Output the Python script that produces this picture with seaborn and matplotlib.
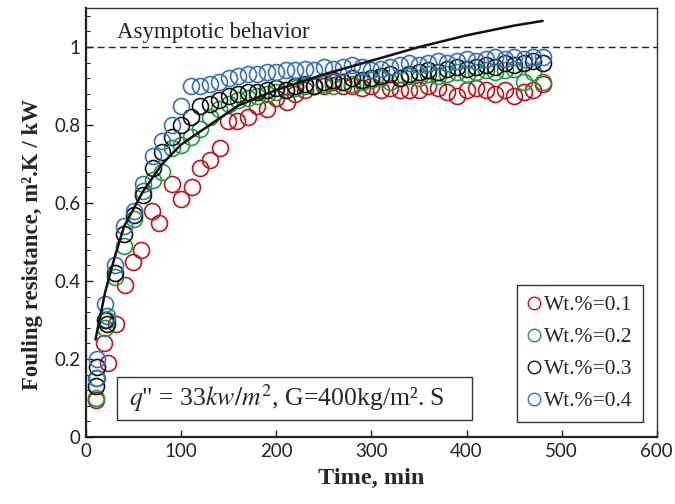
import matplotlib
matplotlib.use("Agg")
import matplotlib.pyplot as plt
import seaborn as sns
import pandas as pd
from matplotlib.lines import Line2D
from matplotlib.patches import Rectangle
from matplotlib.ticker import MultipleLocator, FixedLocator

sns.set_theme(style="white")
plt.rcParams['font.family'] = ['Liberation Serif', 'DejaVu Serif']
plt.rcParams['mathtext.fontset'] = 'stix'

# ---------------- data ----------------
time_red = [10, 19, 23, 32, 41, 49, 58, 69, 77, 90, 100, 111, 120, 130, 141, 149, 159, 170, 180,
            190, 200, 211, 220, 230, 240, 250, 260, 270, 280, 290, 300, 310, 320, 330, 340, 350,
            360, 370, 380, 390, 400, 410, 420, 430, 440, 450, 460, 470, 480]
rf_red = [0.095, 0.24, 0.19, 0.29, 0.39, 0.45, 0.48, 0.58, 0.55, 0.65, 0.61, 0.64, 0.69, 0.71,
          0.74, 0.81, 0.81, 0.82, 0.85, 0.84, 0.87, 0.86, 0.88, 0.89, 0.90, 0.90, 0.91, 0.90,
          0.90, 0.895, 0.90, 0.89, 0.895, 0.89, 0.89, 0.89, 0.90, 0.895, 0.885, 0.875, 0.89,
          0.895, 0.89, 0.88, 0.89, 0.875, 0.885, 0.89, 0.905]

time_main = [10, 12, 20, 22, 30, 40, 50, 60, 70, 80, 90, 100, 110, 120, 130, 140, 150, 160, 170,
             180, 190, 200, 210, 220, 230, 240, 250, 260, 270, 280, 290, 300, 310, 320, 330, 340,
             350, 360, 370, 380, 390, 400, 410, 420, 430, 440, 450, 460, 470, 480]
rf_green = [0.10, 0.15, 0.28, 0.30, 0.41, 0.49, 0.56, 0.63, 0.66, 0.68, 0.74, 0.75, 0.77, 0.79,
            0.82, 0.84, 0.855, 0.865, 0.87, 0.875, 0.88, 0.885, 0.89, 0.895, 0.90, 0.90, 0.905,
            0.90, 0.91, 0.905, 0.91, 0.915, 0.92, 0.91, 0.92, 0.925, 0.92, 0.93, 0.925, 0.93,
            0.935, 0.93, 0.935, 0.94, 0.935, 0.94, 0.945, 0.91, 0.935, 0.91]
rf_black = [0.13, 0.18, 0.30, 0.29, 0.42, 0.52, 0.57, 0.62, 0.69, 0.73, 0.77, 0.80, 0.82, 0.85,
            0.855, 0.865, 0.875, 0.88, 0.885, 0.885, 0.89, 0.895, 0.89, 0.90, 0.905, 0.90, 0.91,
            0.915, 0.91, 0.92, 0.915, 0.92, 0.925, 0.93, 0.92, 0.93, 0.935, 0.94, 0.935, 0.945,
            0.95, 0.945, 0.95, 0.955, 0.95, 0.96, 0.955, 0.96, 0.965, 0.96]
rf_blue = [0.15, 0.20, 0.34, 0.31, 0.44, 0.54, 0.58, 0.65, 0.72, 0.76, 0.80, 0.85, 0.90, 0.90,
           0.905, 0.91, 0.92, 0.925, 0.93, 0.93, 0.935, 0.935, 0.94, 0.94, 0.945, 0.94, 0.95,
           0.945, 0.95, 0.955, 0.95, 0.94, 0.945, 0.95, 0.955, 0.96, 0.955, 0.96, 0.965, 0.96,
           0.965, 0.97, 0.965, 0.97, 0.975, 0.97, 0.975, 0.97, 0.975, 0.975]

fit_time = [10, 20, 30, 40, 60, 80, 100, 130, 160, 200, 250, 300, 350, 400, 450, 480]
fit_rf = [0.25, 0.37, 0.46, 0.54, 0.63, 0.70, 0.75, 0.80, 0.85, 0.89, 0.93, 0.965, 1.0, 1.03,
          1.055, 1.067]

labels = ["Wt.%=0.1", "Wt.%=0.2", "Wt.%=0.3", "Wt.%=0.4"]
colors = ["#c0121a", "#1e9b3c", "#111111", "#3470c0"]
series = [(time_red, rf_red), (time_main, rf_green), (time_main, rf_black), (time_main, rf_blue)]

x_ticks = [0, 100, 200, 300, 400, 500, 600]
y_ticks = [0, 0.2, 0.4, 0.6, 0.8, 1]
y_tick_labels = ["0", "0.2", "0.4", "0.6", "0.8", "1"]

# ---------------- figure ----------------
fig = plt.figure(figsize=(6.75, 5.04), dpi=100)
ax = fig.add_axes([0.1274, 0.133, 0.8456, 0.851])

for (t, r), lab, col in zip(series, labels, colors):
    df = pd.DataFrame({"t": t, "r": r})
    sns.lineplot(data=df, x="t", y="r", ax=ax, estimator=None, sort=False,
                 linestyle="", marker="o", markersize=11.5, markerfacecolor="none",
                 markeredgecolor=col, markeredgewidth=1.2, color=col, legend=False)

fit_df = pd.DataFrame({"t": fit_time, "r": fit_rf})
sns.lineplot(data=fit_df, x="t", y="r", ax=ax, estimator=None, sort=False,
             color="#111111", lw=1.8, legend=False)

ax.axhline(1.0, color="#222222", lw=1.0, ls=(0, (5, 3)))
ax.text(33, 1.01, "Asymptotic behavior", fontsize=16.5, ha="left", va="bottom",
        color="#222222")

ax.set_xlim(0, 600)
ax.set_ylim(0, 1.1)
ax.xaxis.set_major_locator(FixedLocator(x_ticks))
ax.yaxis.set_major_locator(FixedLocator(y_ticks))
ax.set_yticklabels(y_tick_labels)
ax.yaxis.set_minor_locator(MultipleLocator(0.04))
ax.tick_params(axis="both", which="major", direction="in", length=5, width=1,
               labelsize=13.5, pad=4, colors="#222222")
ax.tick_params(axis="y", which="minor", direction="in", length=3, width=0.8, left=True)
ax.tick_params(axis="y", which="major", left=True)
ax.tick_params(axis="x", which="major", bottom=True)
for lab in ax.get_xticklabels() + ax.get_yticklabels():
    lab.set_fontfamily("Lato")

for side in ["left", "bottom"]:
    ax.spines[side].set_color("#222222")
    ax.spines[side].set_linewidth(1.6)
for side in ["top", "right"]:
    ax.spines[side].set_color("#333333")
    ax.spines[side].set_linewidth(1.0)

ax.set_xlabel("Time, min", fontsize=17.5, fontweight="bold", labelpad=6)
ax.set_ylabel("Fouling resistance, m².K / kW", fontsize=16.5,
              fontweight="bold", labelpad=6)
ax.yaxis.set_label_coords(-0.075, 0.45)

ax.add_patch(Rectangle((0.054, 0.040), 0.622, 0.100, transform=ax.transAxes,
                       fc="white", ec="#333333", lw=1.0, zorder=4))
ax.text(0.075, 0.090, r'$q$" = 33$kw/m^2$, G=400kg/m². S', transform=ax.transAxes,
        fontsize=18.5, ha="left", va="center", zorder=5)

handles = [Line2D([], [], ls="", marker="o", markersize=9, markerfacecolor="none",
                  markeredgecolor=c, markeredgewidth=1.0) for c in colors]
leg = ax.legend(handles, labels, loc="lower right", bbox_to_anchor=(0.976, 0.035),
                fontsize=15.5, frameon=True, fancybox=False, edgecolor="#333333",
                framealpha=1, handlelength=0.6, handletextpad=0.15, labelspacing=0.55,
                borderpad=0.5, borderaxespad=0)
leg.get_frame().set_linewidth(1.0)

fig.savefig("out.png", dpi=100)
